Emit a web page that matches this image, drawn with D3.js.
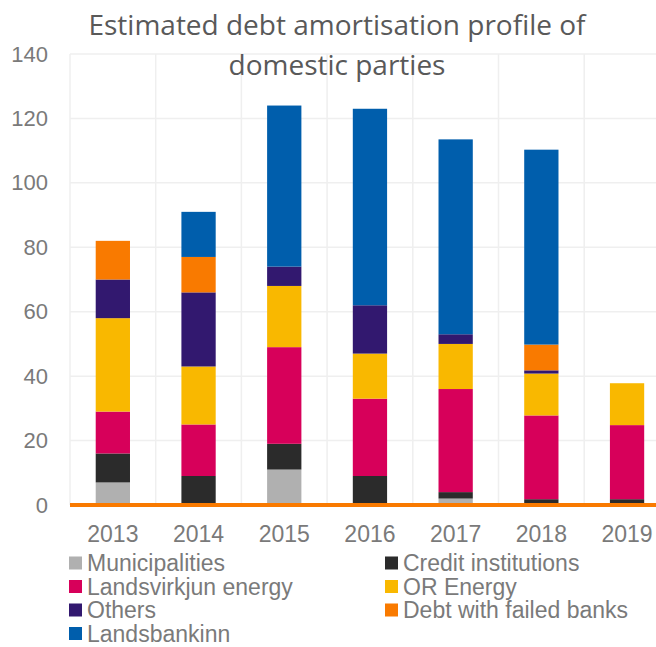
<!DOCTYPE html>
<html><head><meta charset="utf-8">
<script src="https://cdn.jsdelivr.net/npm/d3@7"></script>
<style>body{margin:0;background:#fff}svg{display:block}</style>
</head><body><svg id="c" width="656" height="647"></svg>
<script>
const years = ["2013","2014","2015","2016","2017","2018","2019"];
const seriesNames = ["Municipalities","Credit institutions","Landsvirkjun energy","OR Energy","Others","Debt with failed banks","Landsbankinn"];
const municipalities = [7, 0.5, 11, 0, 2, 0.3, 0.3];
const creditInst     = [9, 8.5, 8, 9, 2, 1.5, 1.5];
const landsvirkjun   = [13, 16, 30, 24, 32, 26, 23];
const orEnergy       = [29, 18, 19, 14, 14, 13, 13];
const others         = [12, 23, 6, 15, 3, 1, 0];
const failedBanks    = [12, 11, 0, 0, 0, 8, 0];
const landsbankinn   = [0, 14, 50, 61, 60.5, 60.5, 0];
const yTicks = [0,20,40,60,80,100,120,140];
const colors = ["#b0b0b0","#2b2b2b","#d7005a","#f9b800","#32186f","#f97a00","#005eac"];

const svg = d3.select("#c");
const m = {l:70, t:54, b:505};
const band = 85.7;
const x = d3.scaleBand().domain(years).range([m.l, m.l + band*years.length]).paddingInner(0.6).paddingOuter(0.3);
const y = d3.scaleLinear().domain([0,140]).range([m.b, m.t]);

const table = years.map((yr,i)=>({year:yr,
  "Municipalities":municipalities[i],"Credit institutions":creditInst[i],
  "Landsvirkjun energy":landsvirkjun[i],"OR Energy":orEnergy[i],"Others":others[i],
  "Debt with failed banks":failedBanks[i],"Landsbankinn":landsbankinn[i]}));
const stack = d3.stack().keys(seriesNames)(table);

// gridlines
const g = svg.append("g");
g.selectAll("line.h").data(yTicks.filter(d=>d>0)).join("line")
  .attr("x1",m.l).attr("x2",656).attr("y1",d=>y(d)).attr("y2",d=>y(d))
  .attr("stroke","#efefef").attr("stroke-width",1.5);
g.selectAll("line.v").data(years).join("line")
  .attr("x1",d=>x(d)+x.bandwidth()/2 - x.step()/2).attr("x2",d=>x(d)+x.bandwidth()/2 - x.step()/2)
  .attr("y1",m.t).attr("y2",m.b).attr("stroke","#efefef").attr("stroke-width",1.5);

// bars
svg.append("g").selectAll("g").data(stack).join("g")
  .attr("fill",(d,i)=>colors[i])
  .selectAll("rect").data(d=>d).join("rect")
  .attr("x",d=>x(d.data.year)).attr("width",x.bandwidth())
  .attr("y",d=>y(d[1])).attr("height",d=>Math.max(0,y(d[0])-y(d[1])));

// baseline
svg.append("line").attr("x1",m.l).attr("x2",656).attr("y1",y(0)).attr("y2",y(0))
  .attr("stroke","#f97a00").attr("stroke-width",4);

const FONT = "'Liberation Sans', Arial, sans-serif";
// y axis
const ya = svg.append("g").attr("transform",`translate(${m.l},0)`)
  .call(d3.axisLeft(y).tickValues(yTicks).tickSize(0).tickPadding(22));
ya.select(".domain").remove();
ya.selectAll("text").attr("font-family",FONT).attr("font-size",22).attr("fill","#7a7a7a");

// x axis
const xa = svg.append("g").attr("transform",`translate(0,${y(0)})`)
  .call(d3.axisBottom(x).tickSize(0).tickPadding(21));
xa.select(".domain").remove();
xa.selectAll("text").attr("font-family",FONT).attr("font-size",23).attr("fill","#7a7a7a");

// title
const title = svg.append("text").attr("text-anchor","middle").attr("fill","#595959")
  .attr("font-family","'Open Sans', sans-serif").attr("font-size",28);
title.append("tspan").attr("x",337).attr("y",35).text("Estimated debt amortisation profile of");
title.append("tspan").attr("x",337).attr("y",75).text("domestic parties");

// legend
const legPos = [[69,563],[385,563],[69,586.5],[385,586.5],[69,610],[385,610],[69,633.5]];
const lg = svg.append("g").selectAll("g").data(seriesNames).join("g")
  .attr("transform",(d,i)=>`translate(${legPos[i][0]},${legPos[i][1]})`);
lg.append("rect").attr("x",0).attr("y",-6.5).attr("width",13).attr("height",13).attr("fill",(d,i)=>colors[i]);
lg.append("text").attr("x",18).attr("y",8).text(d=>d)
  .attr("font-family",FONT).attr("font-size",23).attr("fill","#7a7a7a");
</script></body></html>
